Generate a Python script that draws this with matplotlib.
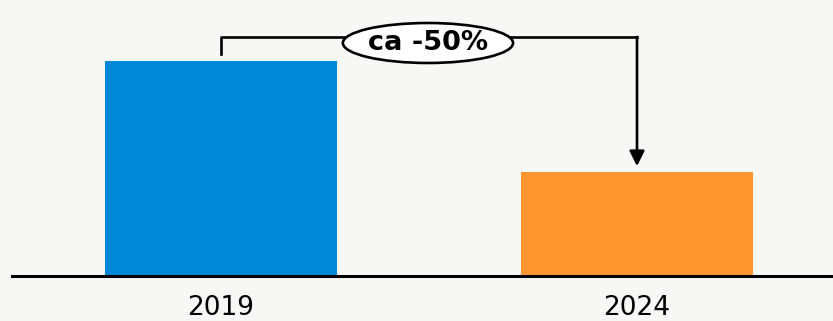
import matplotlib.pyplot as plt
from matplotlib.patches import Ellipse

# donnees
annees = ['2019', '2024']
valeurs = [100, 48.5]
couleurs = ['#0088d8', '#ff962f']
etiquette = 'ca -50%'

fond = '#f7f7f5'
plt.rcParams['font.family'] = ['DejaVu Sans']

fig = plt.figure(figsize=(8.33, 3.21), dpi=100, facecolor=fond)
ax = fig.add_axes([12/833, 45/321, 821/833, 276/321])
ax.set_facecolor(fond)

x = range(len(annees))
ax.bar(x, valeurs, width=0.558, color=couleurs, zorder=2)

ax.set_xlim(-0.502, 1.471)
ax.set_ylim(0, 128.4)

# axe du bas
for s in ['top', 'right', 'left']:
    ax.spines[s].set_visible(False)
ax.spines['bottom'].set_linewidth(2.2)
ax.spines['bottom'].set_color('black')
ax.set_yticks([])
ax.set_xticks(list(x))
ax.set_xticklabels(annees, fontsize=19)
ax.tick_params(axis='x', length=0, pad=14)

# fleche entre les barres
y_haut = valeurs[0] + 11.2
ax.plot([0, 0, 1], [valeurs[0] + 3.3, y_haut, y_haut], color='black', lw=1.9, zorder=3)
ax.annotate('', xy=(1, valeurs[1] + 2.6), xytext=(1, y_haut),
            arrowprops=dict(arrowstyle='-|>,head_length=0.9,head_width=0.45', color='black',
                            lw=1.9, shrinkA=0, shrinkB=0), zorder=3)

ell = Ellipse((0.4976, 108.4), 0.409, 18.6, facecolor='white', edgecolor='black', lw=1.9, zorder=4)
ax.add_patch(ell)
ax.text(0.4976, 108.4, etiquette, ha='center', va='center', fontsize=19.5,
        fontweight='bold', zorder=5)

fig.savefig('out.png', dpi=100, facecolor=fond)
